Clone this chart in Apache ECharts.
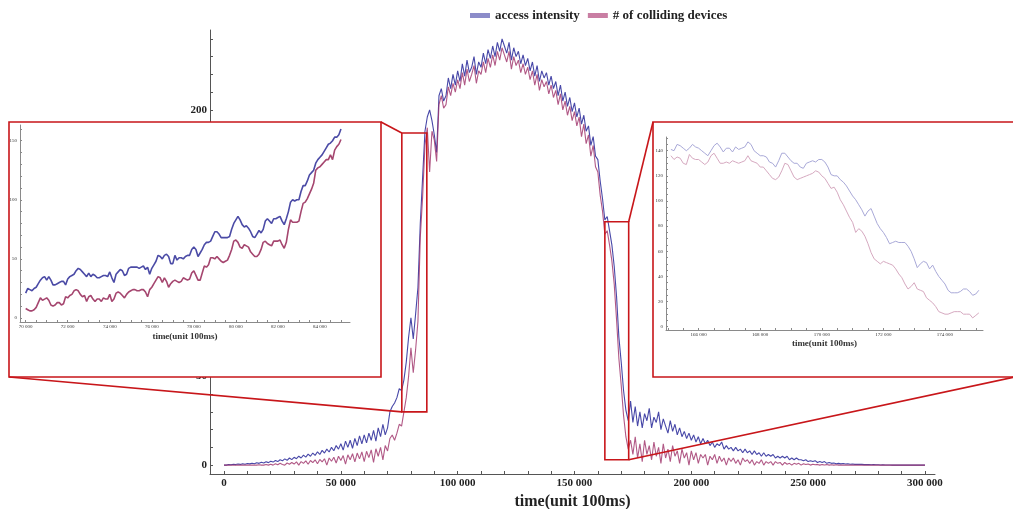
<!DOCTYPE html>
<html>
<head>
<meta charset="utf-8">
<script src="https://cdn.jsdelivr.net/npm/echarts@6/dist/echarts.min.js"></script>
<style>
  html, body { margin: 0; padding: 0; background: #fff; }
  #chart { width: 1013px; height: 509px; }
</style>
</head>
<body>
<div id="chart"></div>
<script>
// ---- data: whole run, one sample every 1000 time units (100 ms each) ----
const MAIN_START = 0;
const MAIN_STEP = 1000;
const accessIntensity = [
  0,0,0.3,0.2,0.5,0.3,0.6,0.4,0.8,0.5,
  0.9,0.7,1.1,0.8,1.3,1.0,1.6,1.2,1.9,1.4,
  2.2,1.7,2.6,2.0,3.0,2.4,3.5,2.7,4.0,3.1,
  4.4,3.6,5.0,4.0,5.6,4.5,6.2,5.0,6.8,5.5,
  7.5,6.0,8.3,6.8,9.0,7.4,10,8.1,11,9.0,
  12,8.5,13.5,10,14,9.5,15,11,16.5,12,
  17,12.5,18,14,19.5,13.5,21,16,23,17,
  21,30,33,35,38,43,42,48,58,72,
  83,71,85,100,136,162,188,196,200,194,
  186,176,208,212,205,208,218,212,220,214,
  222,216,226,219,228,221,224,230,220,227,
  224,232,226,234,229,236,230,238,233,240,
  236,232,238,228,235,230,233,226,231,225,
  229,222,227,219,225,216,222,218,221,214,
  219,212,216,208,214,205,210,202,207,199,
  204,196,201,192,197,188,191,180,185,174,
  172,160,150,138,140,132,124,112,95,72,
  58,42,31,25,36,24,33,22,30,21,
  29,25,32,21,27,24,30,20,26,22,
  18,25,19,23,17,21,16,19,15,18,
  14,17,13,16,12,15,12,14,11,13,
  10,12,11,13,9,11,9,10,8,10,
  8,9,7,9,7,8,6,8,6,7,
  5,7,5,6,5,6,4,5,4,5,
  4,5,3,4,3,4,3,3,2.5,3,
  2,2.5,2,2.5,1.5,2,1.5,2,1,1.5,
  1,1.2,0.8,1,0.7,0.9,0.6,0.8,0.5,0.6,
  0.4,0.5,0.4,0.4,0.3,0.3,0.3,0.2,0.3,0.2,
  0.2,0.1,0.2,0.1,0.1,0.1,0,0.1,0,0,
  0,0,0,0,0,0,0,0,0,0,0
];
const collidingDevices = [
  0,0,0,0,0,0,0,0,0,0,
  0,0,0,0,0,0.2,0,0,0.3,0,
  0.5,0,0.8,0.2,1.0,0.4,0,1.2,0.5,1.5,
  0.6,1.8,0,2.0,1.0,2.4,0.5,2.6,1.4,3.0,
  0.8,3.2,1.8,3.6,0,4.0,2.2,4.4,1.2,5.0,
  2.6,5.4,0.5,5.8,3.0,6.4,1.8,6.8,3.5,7.4,
  2.0,7.8,4.2,8.6,1.5,9.2,5.0,10,3.0,11,
  8,15,17,14,18,23,22,30,38,50,
  66,52,65,81,128,151,180,190,165,188,
  183,171,203,208,201,203,213,208,215,210,
  217,212,221,214,223,216,220,225,215,222,
  220,227,221,229,224,231,225,233,228,235,
  231,227,233,223,230,225,228,221,226,220,
  224,217,222,214,220,211,217,213,216,209,
  214,207,211,203,209,200,205,197,202,194,
  199,191,196,185,192,181,186,174,180,168,
  165,152,143,130,132,124,115,102,82,60,
  45,28,16,9,14,6,16,4,12,2,
  14,6,11,3,13,5,10,1,12,4,
  9,2,11,5,8,1,9,4,7,0,
  8,3,7,1,6,4,6,0,5,3,
  6,1,5,2,4,0,4,2,4,1,
  3,0,4,2,3,1,3,0,2,1,
  3,0,2,1,2,0,2,1,1.5,0,
  1.5,0.5,1,0,1,0.5,1,0,0.8,0.3,
  0.6,0,0.5,0.2,0.4,0,0.3,0.1,0.3,0,
  0.2,0,0.2,0,0.1,0,0,0,0,0,
  0,0,0,0,0,0,0,0,0,0,
  0,0,0,0,0,0,0,0,0,0,
  0,0,0,0,0,0,0,0,0,0,0
];

// ---- data: close-up of the ramp-up, one sample every 100 time units ----
const RISE_START = 70000;
const ZOOM_STEP = 100;
const riseAccess = [
  21,25,24,23,25,26,29,32,34,35,
  32,35,32,28,28,29,30,31,31,28,
  33,35,36,37,40,42,41,39,37,35,
  38,35,37,36,34,34,35,36,36,35,
  39,34,30,37,39,41,40,36,37,42,
  43,43,43,43,42,43,44,41,43,37,
  42,45,48,53,52,50,53,54,52,46,
  46,53,49,51,51,50,52,53,53,58,
  60,58,52,55,58,62,64,64,65,69,
  73,73,71,68,68,68,68,69,75,80,
  83,86,83,79,77,78,76,73,69,68,
  71,74,72,75,82,84,82,80,84,84,
  85,86,82,79,84,90,98,100,99,100,
  100,107,112,112,116,121,123,125,131,134,
  136,138,141,144,147,148,150,153,153,155,
  160
];
const riseColliding = [
  8,7,6,6,7,9,13,17,15,16,
  17,15,11,10,11,13,13,11,12,18,
  17,19,20,23,24,23,20,18,19,14,
  18,19,16,14,16,16,14,17,16,16,
  20,14,16,21,22,21,19,17,20,22,
  23,24,24,23,23,24,24,22,18,24,
  26,29,32,35,34,30,34,31,26,29,
  31,32,31,30,31,34,33,32,33,38,
  40,36,32,32,38,44,43,45,51,51,
  50,52,50,48,47,48,49,53,58,65,
  66,64,60,59,62,61,60,56,54,52,
  52,54,58,64,65,63,62,61,65,65,
  65,66,62,59,64,75,83,81,81,81,
  82,90,97,98,101,105,109,114,125,127,
  128,130,132,134,134,138,134,142,145,147,
  151
];

// ---- data: close-up of the fall-off, one sample every 100 time units ----
const FALL_START = 165100;
const fallAccess = [
  141,140,145,144,142,140,142,145,143,142,
  140,138,136,140,144,146,143,139,142,142,
  139,143,141,142,143,147,145,140,138,136,
  136,135,131,130,127,132,138,138,135,132,
  130,130,127,126,130,131,132,131,133,133,
  131,127,121,120,120,117,115,112,108,104,
  101,97,93,88,92,94,88,82,78,75,
  71,66,67,68,67,67,67,64,60,54,
  47,50,52,51,46,49,44,40,37,34,
  29,27,27,27,28,30,30,28,25,26,
  29
];
const fallColliding = [
  136,133,135,134,130,129,137,134,133,133,
  131,129,131,136,138,134,130,130,131,130,
  132,131,130,131,132,136,132,131,130,127,
  127,124,121,118,117,119,124,130,129,124,
  119,117,118,119,120,121,122,124,123,120,
  118,114,110,111,107,101,97,92,87,83,
  75,78,76,72,66,59,54,52,50,52,
  51,50,49,46,42,39,34,30,32,35,
  30,29,28,23,21,19,16,12,11,10,
  10,11,12,12,12,10,10,10,7,9,
  11
];

// ---- tick labels ----
const mainXLabels = [0, 50000, 100000, 150000, 200000, 250000, 300000];
const mainYLabels = [0, 50, 100, 150, 200];
const riseXLabels = [70000, 72000, 74000, 76000, 78000, 80000, 82000, 84000];
const riseYLabels = [0, 50, 100, 150];
const fallXLabels = [166000, 168000, 170000, 172000, 174000];
const fallYLabels = [0, 20, 40, 60, 80, 100, 120, 140];

const SERIES_NAMES = ['access intensity', '# of colliding devices'];
const AXIS_TITLE = 'time(unit 100ms)';

// regions of the main plot that are enlarged in the two panels (data units)
const riseRegion = { x: [76100, 86800], y: [30, 187] };
const fallRegion = { x: [163000, 173200], y: [3, 137] };

// ---- helpers ----
const SERIF = 'Liberation Serif';
const RED = '#c8161a';
function pairs(values, start, step) {
  return values.map((v, i) => [start + i * step, v]);
}
function range(a, b, s) {
  const out = [];
  for (let v = a; v <= b + 1e-9; v += s) out.push(v);
  return out;
}
function grouped(v) {
  return String(v).replace(/\B(?=(\d{3})+(?!\d))/g, ' ');
}

function valueAxis(o) {
  return {
    type: 'value',
    gridIndex: o.grid,
    min: o.min, max: o.max,
    z: o.z,
    axisLine: { show: true, onZero: false, lineStyle: { color: o.lineColor, width: 1 } },
    axisTick: { show: true, inside: true, length: o.tickLen, customValues: o.ticks,
                lineStyle: { color: o.lineColor, width: 1 } },
    axisLabel: { show: true, customValues: o.labels, formatter: grouped, margin: o.margin,
                 fontFamily: SERIF, fontWeight: o.bold ? 'bold' : 'normal',
                 fontSize: o.fontSize, color: o.labelColor },
    splitLine: { show: false },
    minorTick: { show: false },
    name: o.name || '',
    nameLocation: 'middle',
    nameGap: o.nameGap || 0,
    nameTextStyle: o.nameStyle || {}
  };
}

function lineSeries(name, data, xi, color, width, z) {
  return {
    type: 'line', name: name, data: data,
    xAxisIndex: xi, yAxisIndex: xi,
    showSymbol: false, symbol: 'none',
    lineStyle: { color: color, width: width },
    itemStyle: { color: color },
    emphasis: { disabled: true },
    silent: true, z: z
  };
}

const chart = echarts.init(document.getElementById('chart'), null, { renderer: 'canvas' });

chart.setOption({
  animation: false,
  backgroundColor: '#ffffff',
  legend: {
    left: 465, top: 4,
    itemWidth: 20, itemHeight: 5, itemGap: 8,
    icon: 'rect',
    selectedMode: false,
    textStyle: { fontFamily: SERIF, fontWeight: 'bold', fontSize: 13, color: '#222' },
    data: [
      { name: SERIES_NAMES[0], itemStyle: { color: '#8c8cc9' } },
      { name: SERIES_NAMES[1], itemStyle: { color: '#c97ea3' } }
    ]
  },
  grid: [
    { left: 210, top: 30, width: 725, height: 444, outerBoundsMode: 'none', containLabel: false },
    { left: 20, top: 125, width: 330, height: 197, outerBoundsMode: 'none', containLabel: false },
    { left: 666, top: 137, width: 317, height: 193, outerBoundsMode: 'none', containLabel: false }
  ],
  xAxis: [
    valueAxis({ grid: 0, min: -6000, max: 304300, z: 0, lineColor: '#555', tickLen: 3,
                ticks: range(0, 300000, 10000), labels: mainXLabels, margin: 4,
                bold: true, fontSize: 11, labelColor: '#222',
                name: AXIS_TITLE, nameGap: 18,
                nameStyle: { fontFamily: SERIF, fontWeight: 'bold', fontSize: 16, color: '#222' } }),
    valueAxis({ grid: 1, min: 69730, max: 85430, z: 6, lineColor: '#8a8a8a', tickLen: 2,
                ticks: range(70000, 85000, 500), labels: riseXLabels, margin: 2,
                bold: false, fontSize: 5, labelColor: '#333',
                name: AXIS_TITLE, nameGap: 10,
                nameStyle: { fontFamily: SERIF, fontWeight: 'bold', fontSize: 9, color: '#333' } }),
    valueAxis({ grid: 2, min: 164940, max: 175235, z: 6, lineColor: '#8a8a8a', tickLen: 2,
                ticks: range(165000, 175000, 500), labels: fallXLabels, margin: 2,
                bold: false, fontSize: 5, labelColor: '#333',
                name: AXIS_TITLE, nameGap: 9,
                nameStyle: { fontFamily: SERIF, fontWeight: 'bold', fontSize: 9, color: '#333' } })
  ],
  yAxis: [
    valueAxis({ grid: 0, min: -5, max: 245, z: 0, lineColor: '#555', tickLen: 3,
                ticks: range(0, 240, 10), labels: mainYLabels, margin: 3,
                bold: true, fontSize: 11, labelColor: '#222' }),
    valueAxis({ grid: 1, min: -3.4, max: 163.3, z: 6, lineColor: '#8a8a8a', tickLen: 2,
                ticks: range(0, 160, 10), labels: riseYLabels, margin: 3,
                bold: false, fontSize: 5, labelColor: '#333' }),
    valueAxis({ grid: 2, min: -2.6, max: 150.9, z: 6, lineColor: '#8a8a8a', tickLen: 2,
                ticks: range(0, 150, 5), labels: fallYLabels, margin: 3,
                bold: false, fontSize: 5, labelColor: '#333' })
  ],
  series: [
    lineSeries(SERIES_NAMES[0], pairs(accessIntensity, MAIN_START, MAIN_STEP), 0, 'rgba(52,52,158,0.9)', 1.1, 2),
    lineSeries(SERIES_NAMES[1], pairs(collidingDevices, MAIN_START, MAIN_STEP), 0, 'rgba(158,48,104,0.8)', 1.1, 2),
    lineSeries(SERIES_NAMES[0], pairs(riseAccess, RISE_START, ZOOM_STEP), 1, '#4b4ba6', 1.6, 7),
    lineSeries(SERIES_NAMES[1], pairs(riseColliding, RISE_START, ZOOM_STEP), 1, '#a5466f', 1.6, 7),
    lineSeries(SERIES_NAMES[0], pairs(fallAccess, FALL_START, ZOOM_STEP), 2, '#a9a9d8', 1, 7),
    lineSeries(SERIES_NAMES[1], pairs(fallColliding, FALL_START, ZOOM_STEP), 2, '#d6a9c0', 1, 7)
  ]
});

// ---- panel frames, region boxes and connector lines ----
const riseFrame = { x: 9, y: 122, width: 372, height: 255 };
const fallFrame = { x: 653, y: 122, width: 372, height: 255 };

function regionBox(region) {
  const a = chart.convertToPixel({ gridIndex: 0 }, [region.x[0], region.y[1]]);
  const b = chart.convertToPixel({ gridIndex: 0 }, [region.x[1], region.y[0]]);
  return { x: a[0], y: a[1], width: b[0] - a[0], height: b[1] - a[1] };
}
const rb = regionBox(riseRegion);
const fb = regionBox(fallRegion);

function seg(x1, y1, x2, y2) {
  return { type: 'line', z: 5, silent: true,
           shape: { x1: x1, y1: y1, x2: x2, y2: y2 },
           style: { stroke: RED, lineWidth: 1.6 } };
}
function frame(r, fill) {
  return { type: 'rect', z: 5, silent: true, shape: r,
           style: { fill: fill, stroke: RED, lineWidth: 1.6 } };
}

chart.setOption({
  graphic: [
    frame(riseFrame, '#ffffff'),
    frame(fallFrame, '#ffffff'),
    frame(rb, 'transparent'),
    frame(fb, 'transparent'),
    seg(riseFrame.x + riseFrame.width, riseFrame.y, rb.x, rb.y),
    seg(riseFrame.x, riseFrame.y + riseFrame.height, rb.x, rb.y + rb.height),
    seg(fallFrame.x, fallFrame.y, fb.x + fb.width, fb.y),
    seg(fallFrame.x + fallFrame.width - 10, fallFrame.y + fallFrame.height, fb.x + fb.width, fb.y + fb.height)
  ]
});
</script>
</body>
</html>
